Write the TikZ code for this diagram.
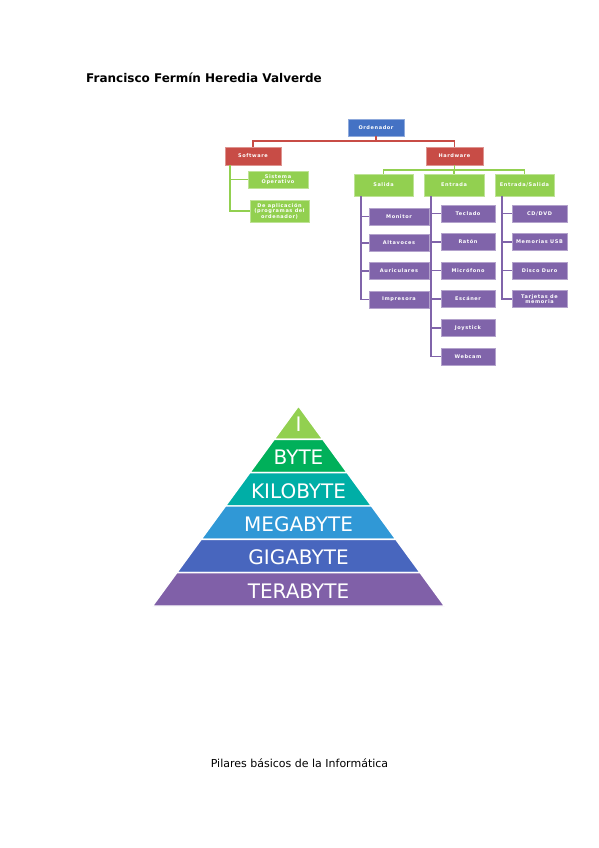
\documentclass[tikz,border=0pt]{standalone}
\usepackage{fontspec}
\setmainfont{DejaVu Sans}
\newfontfamily\orgfont{DejaVu Sans}[LetterSpace=12]
\usetikzlibrary{calc}

\definecolor{ordblue}{RGB}{68,114,196}
\definecolor{hwred}{RGB}{200,76,70}
\definecolor{leafgreen}{RGB}{146,208,80}
\definecolor{itempurple}{RGB}{128,100,170}
\definecolor{lvI}{RGB}{146,208,80}
\definecolor{lvB}{RGB}{0,176,90}
\definecolor{lvK}{RGB}{0,174,166}
\definecolor{lvM}{RGB}{48,152,214}
\definecolor{lvG}{RGB}{72,102,190}
\definecolor{lvT}{RGB}{128,96,168}

\begin{document}
\begin{tikzpicture}[x=1pt,y=-1pt,
    box/.style={rectangle, text=white, align=center, inner sep=0pt,
      font={\orgfont\bfseries\fontsize{5}{5.6}\selectfont}},
    ordbox/.style={box, fill=ordblue, draw=ordblue!60!white, line width=0.4pt},
    redbox/.style={box, fill=hwred, draw=hwred!60!white, line width=0.4pt},
    greenbox/.style={box, fill=leafgreen, draw=leafgreen!60!white, line width=0.4pt},
    itembox/.style={box, fill=itempurple, draw=itempurple!60!white, line width=0.4pt,
      minimum height=17pt},
    redline/.style={draw=hwred, line width=1.6pt},
    greenline/.style={draw=leafgreen, line width=1.6pt},
    purpleline/.style={draw=itempurple, line width=1.6pt},
    band/.style={draw=white, line width=1.4pt, line join=miter},
    bandtext/.style={text=white, inner sep=0pt, font=\fontsize{20}{22}\selectfont}]
  \useasboundingbox (0,0) rectangle (599,848);

  \node[anchor=west, inner sep=0pt, font=\bfseries\fontsize{12}{14}\selectfont] (autor) at (86,78)
    {Francisco Fermín Heredia Valverde};

  % chart
  \node[ordbox, minimum width=56pt, minimum height=17pt] (ord) at (376,127.5) {Ordenador};
  \node[redbox, minimum width=56pt, minimum height=18pt] (soft) at (253,156) {Software};
  \node[redbox, minimum width=57pt, minimum height=18pt] (hard) at (454.5,156) {Hardware};

  \node[greenbox, minimum width=60pt, minimum height=17pt] (sist) at (278,179.5) {Sistema\\Operativo};
  \node[greenbox, minimum width=59pt, minimum height=22pt] (apli) at (279.5,211)
    {De aplicación\\(programas del\\ordenador)};

  \node[greenbox, minimum width=59pt, minimum height=22pt] (sal) at (383.5,185) {Salida};
  \node[greenbox, minimum width=60pt, minimum height=22pt] (ent) at (454,185) {Entrada};
  \node[greenbox, minimum width=59pt, minimum height=22pt] (es) at (524.5,185) {Entrada/Salida};

  \node[itembox, minimum width=60pt] (mon) at (399,216.5) {Monitor};
  \node[itembox, minimum width=60pt] (alt) at (399,243) {Altavoces};
  \node[itembox, minimum width=60pt] (aur) at (399,271) {Auriculares};
  \node[itembox, minimum width=60pt] (imp) at (399,299.5) {Impresora};

  \node[itembox, minimum width=54pt] (tec) at (468,213.5) {Teclado};
  \node[itembox, minimum width=54pt] (rat) at (468,242) {Ratón};
  \node[itembox, minimum width=54pt] (mic) at (468,270.5) {Micrófono};
  \node[itembox, minimum width=54pt] (esc) at (468,299) {Escáner};
  \node[itembox, minimum width=54pt] (joy) at (468,328) {Joystick};
  \node[itembox, minimum width=54pt] (web) at (468,356.5) {Webcam};

  \node[itembox, minimum width=55pt] (cd) at (539.5,213.5) {CD/DVD};
  \node[itembox, minimum width=55pt] (usb) at (539.5,242) {Memorias USB};
  \node[itembox, minimum width=55pt] (disc) at (539.5,270.5) {Disco Duro};
  \node[itembox, minimum width=55pt] (tarj) at (539.5,299) {Tarjetas de\\memoria};

  \begin{scope}[-]
    \draw[redline] (ord.south) -- ++(0,5) -| (soft.north);
    \draw[redline] (ord.south) -- ++(0,5) -| (hard.north);
    \draw[greenline] ([xshift=5pt]soft.south west) |- (sist.west);
    \draw[greenline] ([xshift=5pt]soft.south west) |- (apli.west);
    \draw[greenline] (hard.south) -- ++(0,5) -| (sal.north);
    \draw[greenline] (hard.south) -- ++(0,5) -| (ent.north);
    \draw[greenline] (hard.south) -- ++(0,5) -| (es.north);
    \foreach \kid in {mon,alt,aur,imp}
      \draw[purpleline] ([xshift=7pt]sal.south west) |- (\kid.west);
    \foreach \kid in {tec,rat,mic,esc,joy,web}
      \draw[purpleline] ([xshift=7pt]ent.south west) |- (\kid.west);
    \foreach \kid in {cd,usb,disc,tarj}
      \draw[purpleline] ([xshift=7pt]es.south west) |- (\kid.west);
  \end{scope}

  % pyramid
  \coordinate (apex) at (298.5,406);
  \coordinate (bl) at (152.5,606);
  \coordinate (br) at (444.5,606);
  \foreach \lab/\col [count=\i from 0] in
      {I/lvI, BYTE/lvB, KILOBYTE/lvK, MEGABYTE/lvM, GIGABYTE/lvG, TERABYTE/lvT}{
    \pgfmathsetmacro\ta{\i/6}
    \pgfmathsetmacro\tb{(\i+1)/6}
    \pgfmathsetmacro\tm{(\i+0.5)/6}
    \filldraw[band, fill=\col] ($(apex)!\ta!(bl)$) -- ($(apex)!\ta!(br)$)
      -- ($(apex)!\tb!(br)$) -- ($(apex)!\tb!(bl)$) -- cycle;
    \coordinate (mid\i) at ($(apex)!\tm!(bl)$);
    \node[bandtext, yshift=-1.5pt] (lv\i) at (apex |- mid\i) {\lab};
  }

  \node[font=\fontsize{11}{13}\selectfont] (pie) at (299.5,763)
    {Pilares básicos de la Informática};
\end{tikzpicture}
\end{document}
